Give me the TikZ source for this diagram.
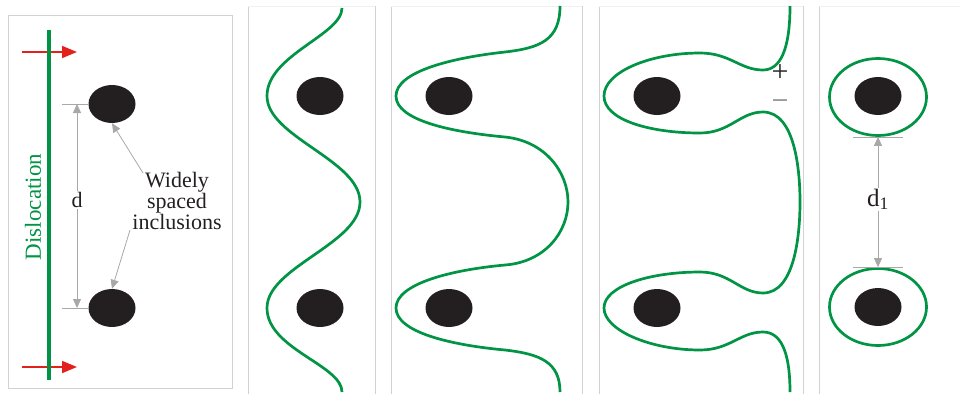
\documentclass[tikz,border=0pt]{standalone}
\usepackage{fontspec}
\setmainfont{Liberation Serif}
\usetikzlibrary{arrows.meta,shapes.geometric}
\definecolor{dislgreen}{HTML}{009444}
\definecolor{pushred}{HTML}{E3211C}
\definecolor{inclblack}{HTML}{231F20}
\definecolor{dimgray}{HTML}{A8A8A8}

\begin{document}
\begin{tikzpicture}[x=1pt,y=-1pt,
  incl/.style={ellipse,fill=inclblack,minimum width=47pt,minimum height=38pt,inner sep=0pt},
  loopring/.style={ellipse,draw=dislgreen,line width=2.7pt,minimum width=97pt,minimum height=77pt,inner sep=0pt},
  disl/.style={draw=dislgreen,line width=2.7pt},
  sideline/.style={draw=gray!35,line width=1pt},
  topline/.style={draw=gray!12,line width=1pt},
  dimline/.style={draw=dimgray,line width=0.8pt},
  dimarrow/.style={dimline,{Triangle[length=9pt,width=8pt]}-{Triangle[length=9pt,width=8pt]}},
  pointer/.style={dimline,-{Triangle[length=9pt,width=8pt]}},
  push/.style={draw=pushred,line width=1.6pt,-{Triangle[length=15pt,width=12pt]}},
  lbl/.style={font=\fontsize{22}{21}\selectfont,text=inclblack,inner sep=1pt}]
\useasboundingbox (0,0) rectangle (960,394);

\draw[sideline] (8,15) rectangle (232,388);
\foreach \l/\r in {248/375,391/582,599/803}{
  \draw[sideline] (\l,394) -- (\l,6);
  \draw[sideline] (\r,394) -- (\r,6);
  \draw[topline] (\l,6) -- (\r,6);
}
\draw[sideline] (819,394) -- (819,6);
\draw[topline] (819,6) -- (960,6);

\coordinate (pushA0) at (22,52);
\coordinate (pushA1) at (77,52);
\coordinate (pushB0) at (22,367);
\coordinate (pushB1) at (77,367);
\draw[push] (pushA0) -- (pushA1);
\draw[push] (pushB0) -- (pushB1);
\coordinate (lineTop) at (49,30);
\coordinate (lineBot) at (49,380);
\draw[disl,line width=3.2pt] (lineTop) -- (lineBot);
\node[rotate=90,text=dislgreen,font=\fontsize{23}{23}\selectfont] (dislabel) at (33,207) {Dislocation};

\node[incl] (a1) at (112,104) {};
\node[incl] (a2) at (112,308) {};
\coordinate (a1tick) at (62,104);
\coordinate (a2tick) at (62,308);
\draw[dimline] (a1tick) -- (a1.west);
\draw[dimline] (a2tick) -- (a2.west);
\coordinate (dTop) at (77,104);
\coordinate (dBot) at (77,308);
\draw[dimarrow] (dTop) -- node[lbl,fill=white,pos=0.47] (dlabel) {d} (dBot);
\node[lbl,align=center] (note) at (177,201) {Widely\\spaced\\inclusions};
\coordinate (noteUp) at (143,173);
\coordinate (noteDown) at (130,230);
\draw[pointer] (noteUp) -- (a1.south);
\draw[pointer] (noteDown) -- (a2.north);

\node[incl] (b1) at (320,96) {};
\node[incl] (b2) at (320,308) {};
\draw[disl] (342,8) .. controls (342,35) and (267,55) .. (267,96)
  .. controls (267,137) and (360,160) .. (360,202)
  .. controls (360,244) and (267,267) .. (267,308)
  .. controls (267,349) and (342,365) .. (342,392);

\node[incl] (c1) at (449,96) {};
\node[incl] (c2) at (449,308) {};
\draw[disl] (560,6) .. controls (560,40) and (540,48) .. (505,52)
  .. controls (450,58) and (396,72) .. (396,96)
  .. controls (396,120) and (450,132) .. (505,137)
  .. controls (545,141) and (568,172) .. (568,202)
  .. controls (568,232) and (545,262) .. (505,265)
  .. controls (450,270) and (396,284) .. (396,308)
  .. controls (396,332) and (450,345) .. (505,350)
  .. controls (540,354) and (560,362) .. (560,392);

\node[incl] (e1) at (657,96) {};
\node[incl] (e2) at (657,308) {};
\draw[disl] (790,6) .. controls (790,50) and (780,70) .. (763,70)
  .. controls (740,70) and (730,53) .. (700,53)
  .. controls (650,53) and (604,72) .. (604,96)
  .. controls (604,120) and (650,133) .. (700,133)
  .. controls (730,133) and (740,112) .. (763,112)
  .. controls (795,112) and (800,170) .. (800,202)
  .. controls (800,234) and (795,293) .. (763,293)
  .. controls (740,293) and (730,272) .. (700,272)
  .. controls (650,272) and (604,286) .. (604,308)
  .. controls (604,330) and (650,350) .. (700,350)
  .. controls (730,350) and (740,332) .. (763,332)
  .. controls (780,332) and (790,350) .. (790,392);
\node[lbl,text=gray!30!black,font=\fontsize{30}{30}\selectfont] (plus) at (780,73) {+};
\node[lbl,text=gray,font=\fontsize{30}{30}\selectfont] (minus) at (780,105) {\textminus};

\node[loopring] (g1) at (878,97) {};
\node[loopring] (g2) at (878,307) {};
\node[incl] (f1) at (878,96) {};
\node[incl] (f2) at (878,307) {};
\coordinate (g1tickL) at (853,137);
\coordinate (g1tickR) at (903,137);
\coordinate (g2tickL) at (853,267);
\coordinate (g2tickR) at (903,267);
\draw[dimline] (g1tickL) -- (g1tickR);
\draw[dimline] (g2tickL) -- (g2tickR);
\draw[dimarrow] (g1.south) -- node[lbl,fill=white,font=\fontsize{25}{25}\selectfont,pos=0.48] (d1label) {d\textsubscript{1}} (g2.north);
\end{tikzpicture}
\end{document}
